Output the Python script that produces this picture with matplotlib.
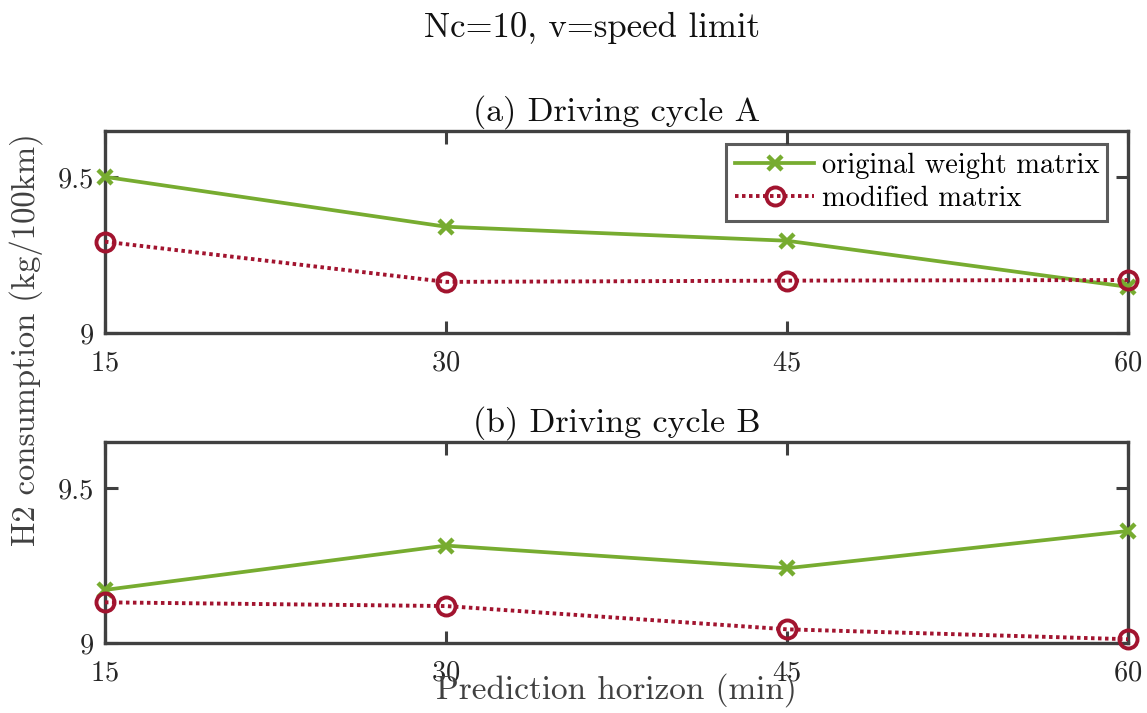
import numpy as np
import matplotlib
matplotlib.use("Agg")
import matplotlib.pyplot as plt

# H2 consumption vs prediction horizon, two driving cycles
horizon = [15, 30, 45, 60]
cycle_a_original = [9.502, 9.342, 9.297, 9.149]
cycle_a_modified = [9.294, 9.165, 9.169, 9.171]
cycle_b_original = [9.172, 9.315, 9.242, 9.362]
cycle_b_modified = [9.132, 9.120, 9.045, 9.013]
panel_titles = ["(a) Driving cycle A", "(b) Driving cycle B"]

plt.rcParams['font.family'] = 'serif'
plt.rcParams['font.serif'] = ['cmr10', 'DejaVu Serif']
plt.rcParams['mathtext.fontset'] = 'cm'
plt.rcParams['axes.formatter.use_mathtext'] = True

green = '#77AC30'
red = '#A2142F'
axcol = '#404040'

fig = plt.figure(figsize=(11.47, 7.13), dpi=100)
ax1 = fig.add_axes([0.0915, 0.5325, 0.8919, 0.2842])
ax2 = fig.add_axes([0.0915, 0.0978, 0.8919, 0.2827])

data = [(cycle_a_original, cycle_a_modified), (cycle_b_original, cycle_b_modified)]
for ax, (orig, mod), title in zip([ax1, ax2], data, panel_titles):
    ax.plot(horizon, orig, '-x', color=green, lw=2.7, ms=10, mew=3.2,
            label='original weight matrix', clip_on=False, zorder=3)
    ax.plot(horizon, mod, marker='o', ls=(0, (0.9, 0.9)), color=red,
            lw=2.8, ms=13, mew=2.8, mfc='none', label='modified matrix',
            clip_on=False, zorder=3)
    ax.set_xlim(15, 60)
    ax.set_ylim(9, 9.65)
    ax.set_xticks(horizon)
    ax.set_yticks([9, 9.5])
    ax.set_yticklabels(['9', '9.5'])
    ax.tick_params(direction='in', length=9, width=2.2, colors=axcol,
                   labelsize=20.5, top=True, right=True, pad=12)
    ax.tick_params(axis='x', labelcolor='#262626')
    ax.tick_params(axis='y', labelcolor='#262626', pad=8)
    for s in ax.spines.values():
        s.set_color(axcol)
        s.set_linewidth(2.4)
    ax.set_title(title, fontsize=24.5, pad=7, color='#111111')

leg = ax1.legend(loc='upper right', bbox_to_anchor=(0.98, 0.935),
                 fontsize=20.5, frameon=True, fancybox=False,
                 handlelength=2.8, borderpad=0.3, labelspacing=0.25,
                 handletextpad=0.25, borderaxespad=0.0)
leg.get_frame().set_edgecolor('#333333')
leg.get_frame().set_linewidth(2.2)

fig.text(0.516, 0.961, 'Nc=10, v=speed limit', ha='center', va='center',
         fontsize=25, color='#111111')
fig.text(0.023, 0.523, 'H2 consumption (kg/100km)', rotation=90,
         ha='center', va='center', fontsize=23.5, color='#404040')
# x label sits low, partly over the bottom tick labels
fig.text(0.537, 0.032, 'Prediction horizon (min)', ha='center',
         va='center', fontsize=24, color='#404040')

fig.savefig('out.png', dpi=100)
